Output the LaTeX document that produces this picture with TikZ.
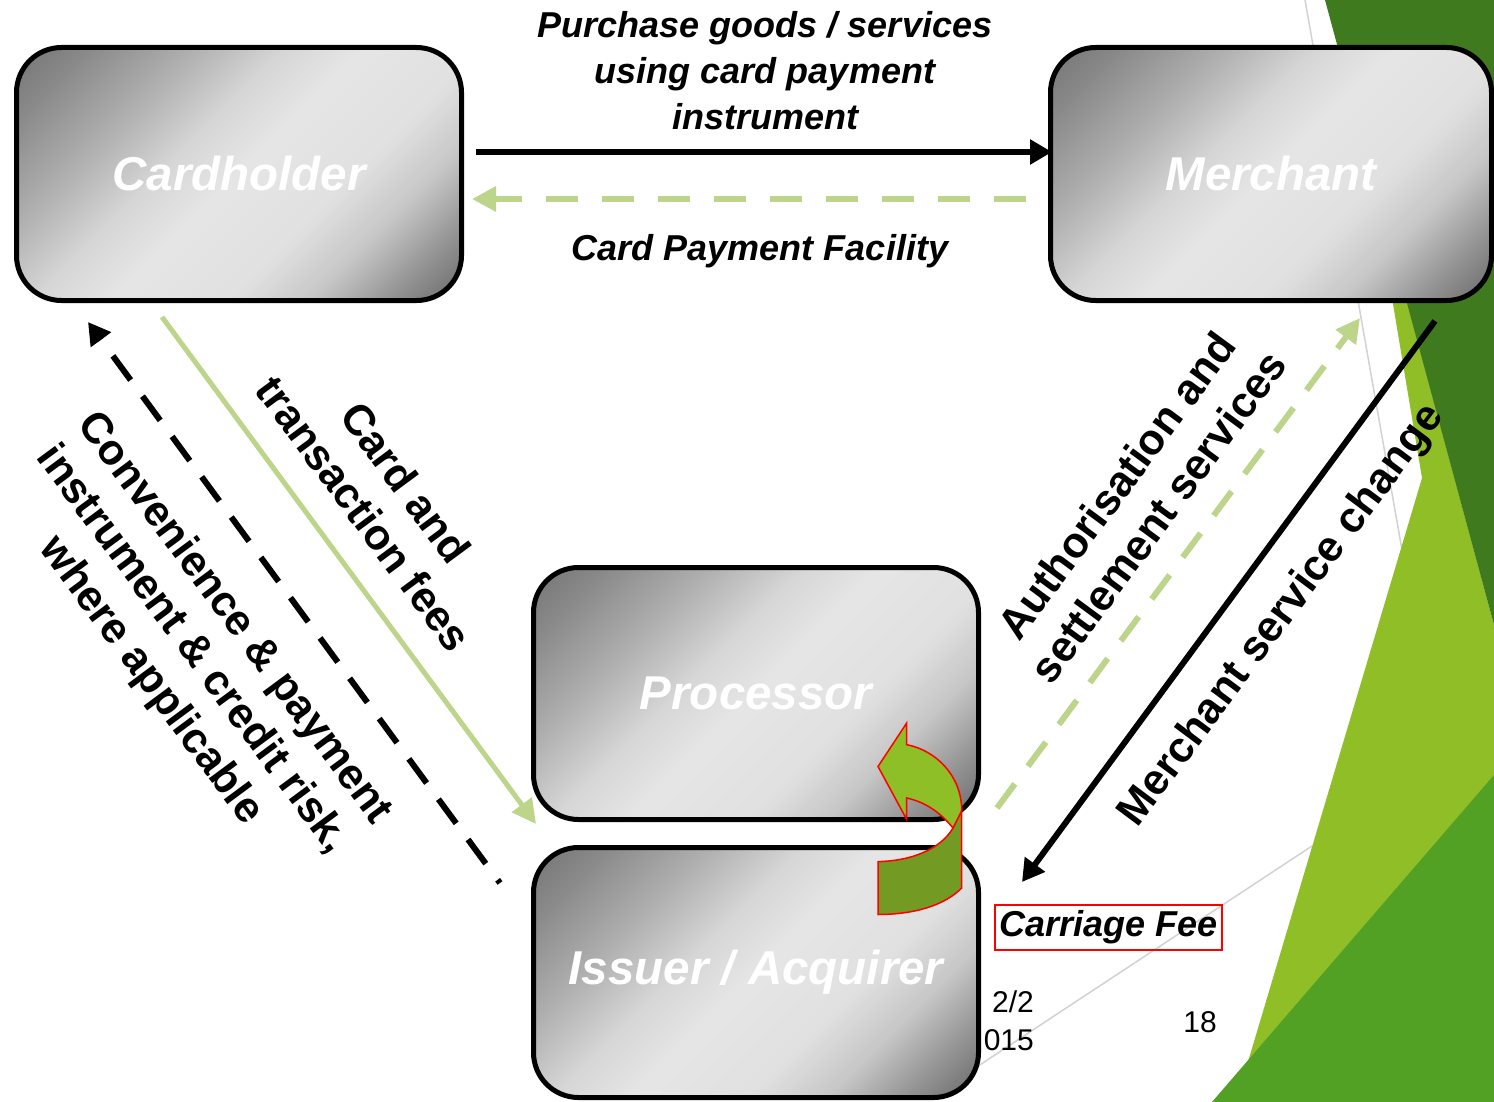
\documentclass[tikz,border=0pt]{standalone}
\usepackage{fontspec}
\setmainfont{Liberation Sans}
\usetikzlibrary{arrows.meta}
\definecolor{dkgreen}{RGB}{64,122,30}
\definecolor{ltgreen}{RGB}{143,190,38}
\definecolor{mdgreen}{RGB}{82,160,36}
\definecolor{paleg}{RGB}{189,213,138}
\definecolor{arrowlt}{RGB}{143,191,38}
\definecolor{arrowdk}{RGB}{115,154,34}
\definecolor{thinline}{RGB}{210,210,210}
\pgfdeclareverticalshading{boxshade}{100bp}{color(0bp)=(black!62); color(15bp)=(black!58); color(22bp)=(black!42); color(30bp)=(black!22); color(38bp)=(black!12); color(50bp)=(black!10); color(58bp)=(black!16); color(68bp)=(black!32); color(78bp)=(black!46); color(85bp)=(black!54); color(100bp)=(black!56)}
\begin{document}
\begin{tikzpicture}[x=1pt,y=-1pt,
  partybox/.style={draw=black, line width=5pt, rounded corners=45pt,
    shading=boxshade, shading angle=45,
    text=white, font=\fontsize{47.5}{54}\selectfont\bfseries\itshape, inner sep=0pt},
  hlabel/.style={font=\fontsize{36}{46}\selectfont\bfseries\itshape, align=center, inner sep=0pt},
  rlabel/.style={font=\fontsize{43}{52}\selectfont\bfseries, align=center, inner sep=0pt},
  blackarrow/.style={draw=black, line width=6pt, -{Triangle[length=22pt,width=24pt]}},
  greenarrow/.style={draw=paleg, line width=6pt, -{Triangle[length=24pt,width=24pt]}},
  plainnum/.style={font=\fontsize{30}{38}\selectfont, inner sep=0pt}
]
\useasboundingbox (0,0) rectangle (1494,1102);
\fill[white] (0,0) rectangle (1494,1102);
% background theme shapes
\draw[thinline, line width=1.5pt] (1305,0) -- (1402,550);
\draw[thinline, line width=1.5pt] (960,1078) -- (1312,846);
\fill[ltgreen] (1384,250) -- (1422,478) -- (1236,1102) -- (1494,1102) -- (1494,625) -- (1393,250) -- cycle;
\fill[dkgreen] (1325,0) -- (1494,0) -- (1494,625) -- cycle;
\fill[mdgreen] (1494,775) -- (1494,1102) -- (1212,1102) -- cycle;
% date and page number (behind boxes)
\node[plainnum, anchor=east] (date1) at (1034,1002) {2/2};
\node[plainnum, anchor=east] (date2) at (1034,1040) {015};
\node[plainnum] (page) at (1200,1022) {18};
% boxes
\node[partybox, minimum width=445pt, minimum height=253pt] (card) at (239,174) {Cardholder};
\node[partybox, minimum width=441pt, minimum height=253pt] (merch) at (1271,174) {Merchant};
\node[partybox, minimum width=445pt, minimum height=252pt] (proc) at (756,693.5) {Processor};
\node[partybox, minimum width=445pt, minimum height=250pt] (issuer) at (756,972.5) {Issuer / Acquirer};
% connector end points
\coordinate (purA) at (476,152);
\coordinate (purB) at (1052,152);
\coordinate (facA) at (1026,199);
\coordinate (facB) at (472,199);
\coordinate (riskA) at (500,883);
\coordinate (riskB) at (88,322);
\coordinate (feesA) at (162,317);
\coordinate (feesB) at (536,824);
\coordinate (authA) at (997,808);
\coordinate (authB) at (1360,318);
\coordinate (mscA) at (1435,321);
\coordinate (mscB) at (1022,882);
% connectors
\draw[blackarrow] (purA) -- (purB);
\draw[greenarrow, dash pattern=on 32pt off 24pt] (facA) -- (facB);
\draw[blackarrow, dash pattern=on 30pt off 20pt, dash phase=26pt] (riskA) -- (riskB);
\draw[greenarrow, line width=5pt] (feesA) -- (feesB);
\draw[greenarrow, dash pattern=on 30pt off 22pt] (authA) -- (authB);
\draw[blackarrow] (mscA) -- (mscB);
% labels
\node[hlabel] (lpurch) at (765,71) {Purchase goods / services\\using card payment\\instrument};
\node[hlabel] (lfac) at (760,251) {Card Payment Facility};
\node[rlabel, rotate=-53.5] (lfees) at (385,498) {Card and\\transaction fees};
\node[rlabel, rotate=-53.5] (lrisk) at (192,650) {Convenience \& payment\\instrument \& credit risk,\\where applicable};
\node[rlabel, rotate=53.6] (lauth) at (1137,501) {Authorisation and\\settlement services};
\node[rlabel, rotate=53.3] (lmsc) at (1282,616) {Merchant service change};
% curved U-turn arrow
\filldraw[fill=arrowdk, draw=red, line width=1.5pt]
  (878,861.6) .. controls (910,861) and (940,850) .. (953,828) -- (961.7,810.6) -- (961.7,888)
  .. controls (945,905) and (915,914.5) .. (878,914.5) -- cycle;
\filldraw[fill=arrowlt, draw=red, line width=1.5pt]
  (878,766.5) -- (906.7,723) -- (906.7,744.7) .. controls (935,750) and (961.7,775) .. (961.7,810.6)
  -- (953,828) .. controls (940,812) and (925,802) .. (906.7,798) -- (906.7,819.4) -- cycle;
% carriage fee
\node[draw=red, line width=1.5pt, minimum width=227pt, minimum height=45pt, inner sep=0pt,
  font=\fontsize{36}{40}\selectfont\bfseries\itshape] (fee) at (1108.5,927.5) {Carriage Fee};
\end{tikzpicture}
\end{document}
